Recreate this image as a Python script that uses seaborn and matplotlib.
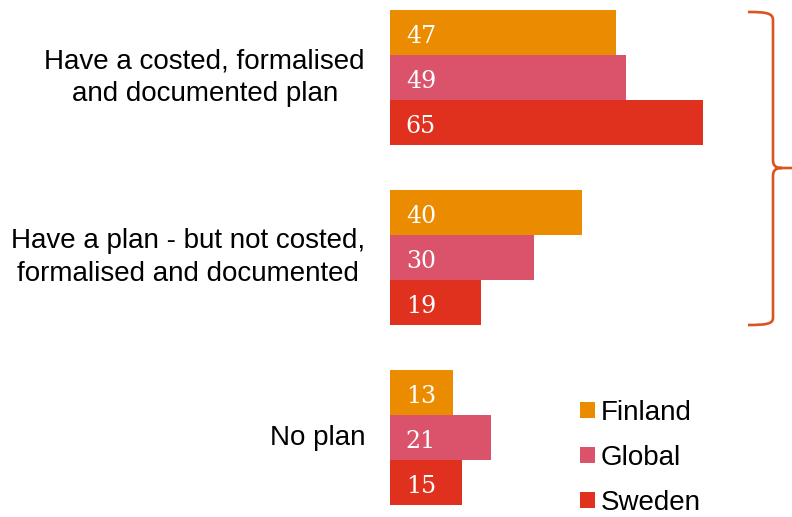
import matplotlib
matplotlib.use("Agg")
import matplotlib.pyplot as plt
from matplotlib.path import Path
from matplotlib.patches import PathPatch
from matplotlib.transforms import Affine2D
import pandas as pd
import seaborn as sns

# Survey answers: share of respondents (%) by region
plans = [
    "Have a costed, formalised\nand documented plan",
    "Have a plan - but not costed,\nformalised and documented",
    "No plan",
]
regions = ["Finland", "Global", "Sweden"]
finland = [47, 40, 13]
global_ = [49, 30, 21]
sweden = [65, 19, 15]
colors = ["#EB8C00", "#DB536A", "#E0301E"]

df = pd.DataFrame({
    "plan": plans * 3,
    "region": [r for r in regions for _ in plans],
    "value": finland + global_ + sweden,
})

sns.set_style("white")
plt.rcParams["font.family"] = ["Liberation Sans", "DejaVu Sans"]

W, H = 792, 517
fig = plt.figure(figsize=(W / 100, H / 100), dpi=100)
ax = fig.add_axes([390 / W, 0, 402 / W, 1])

sns.barplot(
    data=df, y="plan", x="value", hue="region", hue_order=regions,
    order=plans, orient="h", palette=colors, saturation=1,
    width=0.75, dodge=True, ax=ax, linewidth=0,
)

ax.set_xlim(0, 402 / 4.81)
ax.set_ylim(2 + 79.5 / 180, -77.5 / 180)
ax.set_xlabel("")
ax.set_ylabel("")
ax.set_xticks([])
for s in ax.spines.values():
    s.set_visible(False)
ax.tick_params(axis="y", length=0, pad=18)
for lbl in ax.get_yticklabels():
    lbl.set_fontsize(20)
    lbl.set_multialignment("center")
    lbl.set_linespacing(1.35)
    lbl.set_verticalalignment("center")
    lbl.set_color("black")

# Value labels inside the left end of each bar
for container in ax.containers:
    for bar in container:
        ax.text(
            bar.get_x() + 3.3, bar.get_y() + bar.get_height() / 2 + 0.022,
            f"{bar.get_width():.0f}", ha="left", va="center",
            color="white", fontsize=17, family="DejaVu Serif",
        )

sns.move_legend(
    ax, loc="upper left", bbox_to_anchor=(580 / W, 1 - 400 / H),
    bbox_transform=fig.transFigure, frameon=False, title=None,
    fontsize=20, handlelength=0.54, handleheight=0.54,
    handletextpad=0.22, labelspacing=0.68, borderpad=0, borderaxespad=0,
)
for t in ax.get_legend().get_texts():
    t.set_color("black")

# Curly brace grouping the two "have a plan" answers
verts = [
    (748, 12), (766, 12), (773, 13), (773, 20),
    (773, 160),
    (773, 166), (776, 168), (782, 168),
    (792, 168),
    (782, 168),
    (776, 168), (773, 170), (773, 176),
    (773, 318),
    (773, 324), (766, 325), (748, 325),
]
codes = [
    Path.MOVETO, Path.CURVE4, Path.CURVE4, Path.CURVE4,
    Path.LINETO,
    Path.CURVE4, Path.CURVE4, Path.CURVE4,
    Path.LINETO,
    Path.MOVETO,
    Path.CURVE4, Path.CURVE4, Path.CURVE4,
    Path.LINETO,
    Path.CURVE4, Path.CURVE4, Path.CURVE4,
]
px = Affine2D().scale(1 / W, -1 / H).translate(0, 1) + fig.transFigure
brace = PathPatch(Path(verts, codes), fill=False, edgecolor="#D9541E",
                  linewidth=1.9, transform=px, clip_on=False)
fig.patches.append(brace)

fig.savefig("out.png", dpi=100)
